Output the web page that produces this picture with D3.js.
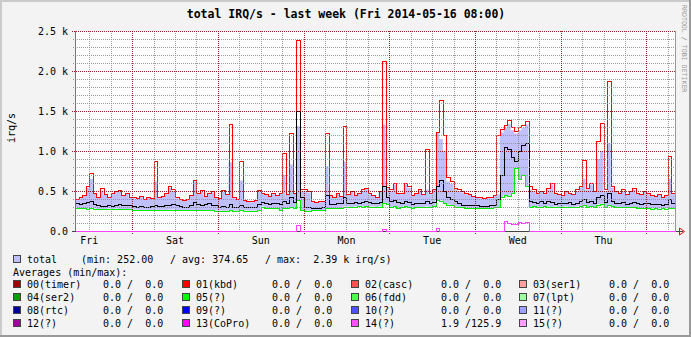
<!DOCTYPE html>
<html>
<head>
<meta charset="utf-8">
<script src="https://cdn.jsdelivr.net/npm/d3@7"></script>
<style>
  html, body { margin: 0; padding: 0; background: #f3f3f3; }
  svg { display: block; }
  text { font-family: "DejaVu Sans Mono", monospace; fill: #000; white-space: pre; }
</style>
</head>
<body>
<svg id="chart" width="691" height="337"></svg>
<script>
// One week of hourly samples, starting Fri 2014-05-09 08:00
const startTime = Date.UTC(2014, 4, 9, 8);
const endTime = Date.UTC(2014, 4, 16, 8);

// total IRQ/s: maximum (red)
const totalMax = [
  400, 420, 450, 560, 725, 480, 430, 540,
  460, 420, 470, 500, 515, 450, 480, 430,
  420, 410, 440, 400, 430, 410, 880, 420,
  440, 470, 560, 520, 420, 400, 390, 400,
  450, 640, 480, 510, 440, 470, 500, 430,
  410, 510, 460, 1340, 420, 400, 880, 390,
  380, 370, 390, 510, 480, 460, 440, 470,
  450, 480, 980, 460, 1220, 480, 2390, 520,
  520, 500, 370, 360, 370, 380, 1220, 450,
  420, 480, 440, 1310, 460, 500, 450, 480,
  520, 540, 470, 450, 430, 500, 2130, 550,
  520, 600, 480, 470, 600, 560, 450, 480,
  520, 460, 1030, 470, 520, 1240, 1640, 1200,
  680, 620, 540, 520, 500, 470, 460, 440,
  430, 420, 410, 430, 420, 450, 1200, 1270,
  1330, 1390, 1300, 1250, 1300, 1320, 1370, 560,
  520, 480, 500, 470, 540, 600, 480, 460,
  450, 500, 480, 460, 520, 560, 890, 540,
  600, 500, 1120, 1350, 520, 1880, 560, 500,
  480, 520, 460, 500, 540, 480, 460, 500,
  470, 450, 440, 460, 430, 450, 940, 470
];

// total IRQ/s: upper edge of the min..max band (lavender)
const bandUpper = [
  390, 410, 440, 540, 650, 470, 420, 500,
  450, 410, 460, 490, 500, 440, 470, 420,
  410, 400, 430, 390, 420, 400, 620, 410,
  430, 460, 540, 500, 410, 390, 380, 390,
  440, 620, 470, 490, 430, 460, 480, 420,
  400, 490, 450, 860, 410, 390, 630, 380,
  370, 360, 380, 500, 470, 450, 430, 460,
  440, 470, 700, 450, 830, 470, 1310, 500,
  500, 480, 360, 350, 360, 370, 810, 440,
  410, 470, 430, 870, 450, 490, 440, 470,
  500, 530, 460, 440, 420, 490, 1330, 530,
  500, 580, 470, 460, 580, 540, 440, 470,
  500, 450, 520, 460, 510, 1230, 1150, 1000,
  620, 590, 520, 500, 480, 460, 450, 430,
  420, 410, 400, 420, 410, 440, 460, 1230,
  1290, 1340, 1260, 1220, 1260, 1290, 1330, 520,
  500, 470, 490, 460, 520, 580, 470, 450,
  440, 490, 470, 450, 500, 540, 650, 520,
  580, 490, 900, 1000, 500, 1100, 540, 490,
  470, 500, 450, 490, 520, 470, 450, 490,
  460, 440, 430, 450, 420, 440, 650, 460
];

// total IRQ/s: average (black)
const totalAvg = [
  345, 340, 350, 360, 380, 340, 320, 315,
  315, 320, 315, 330, 340, 330, 325, 320,
  310, 305, 310, 305, 300, 310, 330, 315,
  315, 320, 330, 340, 320, 310, 305, 300,
  320, 360, 340, 330, 335, 345, 330, 320,
  305, 310, 300, 340, 305, 300, 330, 300,
  300, 295, 300, 340, 365, 350, 340, 350,
  345, 340, 380, 350, 420, 360, 1500, 420,
  300, 295, 290, 290, 290, 295, 450, 340,
  340, 345, 350, 420, 350, 355, 360, 355,
  360, 380, 360, 355, 350, 360, 560, 430,
  380, 390, 360, 350, 370, 360, 340, 345,
  350, 345, 380, 350, 360, 560, 640, 500,
  420, 400, 370, 345, 330, 325, 320, 320,
  320, 315, 310, 315, 320, 325, 400, 700,
  1050, 1020, 930, 870, 1000, 1080, 1100, 380,
  360, 350, 370, 345, 380, 360, 340, 350,
  350, 345, 360, 340, 355, 370, 400, 360,
  380, 350, 420, 450, 360, 480, 370, 350,
  345, 360, 340, 355, 360, 345, 340, 350,
  345, 340, 335, 340, 330, 340, 400, 345
];

// total IRQ/s: minimum (green)
const totalMin = [
  290, 285, 285, 280, 290, 280, 275, 275,
  275, 280, 275, 280, 275, 275, 270, 270,
  265, 265, 262, 265, 260, 262, 265, 262,
  265, 262, 265, 268, 262, 260, 258, 258,
  260, 262, 260, 258, 258, 260, 258, 256,
  255, 252, 252, 258, 255, 255, 258, 256,
  256, 255, 256, 258, 305, 290, 288, 290,
  292, 260, 285, 290, 295, 290, 390, 260,
  252, 255, 262, 264, 264, 262, 285, 285,
  285, 288, 285, 305, 305, 300, 305, 308,
  305, 310, 305, 305, 300, 305, 350, 340,
  300, 310, 290, 295, 310, 300, 290, 295,
  300, 295, 305, 300, 310, 390, 380, 350,
  330, 320, 305, 300, 295, 290, 290, 290,
  288, 285, 285, 288, 290, 295, 300, 420,
  450, 440, 470, 790, 650, 700, 560, 300,
  310, 305, 300, 310, 305, 300, 305, 300,
  300, 305, 300, 295, 305, 310, 320, 300,
  310, 300, 330, 340, 300, 320, 310, 300,
  300, 295, 300, 295, 300, 290, 285, 290,
  285, 280, 285, 280, 285, 280, 290, 285
];

// IRQ 14 (magenta)
const irq14 = [
  1.9, 1.9, 1.9, 1.9, 1.9, 1.9, 1.9, 1.9,
  1.9, 1.9, 1.9, 1.9, 1.9, 1.9, 1.9, 1.9,
  1.9, 1.9, 1.9, 1.9, 1.9, 1.9, 1.9, 1.9,
  1.9, 1.9, 1.9, 1.9, 1.9, 1.9, 1.9, 1.9,
  1.9, 1.9, 1.9, 1.9, 1.9, 1.9, 1.9, 1.9,
  1.9, 1.9, 1.9, 1.9, 1.9, 1.9, 1.9, 1.9,
  1.9, 1.9, 1.9, 1.9, 1.9, 1.9, 1.9, 1.9,
  1.9, 1.9, 1.9, 1.9, 1.9, 1.9, 75, 1.9,
  1.9, 1.9, 1.9, 1.9, 1.9, 1.9, 1.9, 1.9,
  1.9, 1.9, 1.9, 1.9, 1.9, 1.9, 1.9, 1.9,
  1.9, 1.9, 1.9, 1.9, 1.9, 1.9, 20, 1.9,
  1.9, 1.9, 1.9, 1.9, 1.9, 1.9, 1.9, 1.9,
  1.9, 1.9, 1.9, 1.9, 1.9, 34, 1.9, 1.9,
  1.9, 1.9, 1.9, 1.9, 1.9, 1.9, 1.9, 1.9,
  1.9, 1.9, 1.9, 1.9, 1.9, 1.9, 1.9, 1.9,
  125.9, 95, 85, 90, 110, 105, 110, 1.9,
  1.9, 1.9, 1.9, 1.9, 1.9, 1.9, 1.9, 1.9,
  1.9, 1.9, 1.9, 1.9, 1.9, 1.9, 1.9, 1.9,
  1.9, 1.9, 1.9, 1.9, 1.9, 1.9, 1.9, 1.9,
  1.9, 1.9, 1.9, 1.9, 1.9, 1.9, 1.9, 1.9,
  1.9, 1.9, 1.9, 1.9, 1.9, 1.9, 1.9, 1.9
];

const yTickValues = [0, 500, 1000, 1500, 2000, 2500];
const yTickLabels = ["0.0", "0.5 k", "1.0 k", "1.5 k", "2.0 k", "2.5 k"];
const dayLabels = ["Fri", "Sat", "Sun", "Mon", "Tue", "Wed", "Thu"];

const titleText = "total IRQ/s - last week (Fri 2014-05-16 08:00)";
const totalLegend = { label: "total", min: "(min: 252.00", avg: "/ avg: 374.65", max: "/ max:  2.39 k irq/s)" };

// per-IRQ legend entries: name, colour, "min / max" averages
const irqNames = ["00(timer)", "01(kbd)", "02(casc)", "03(ser1)",
                  "04(ser2)", "05(?)", "06(fdd)", "07(lpt)",
                  "08(rtc)", "09(?)", "10(?)", "11(?)",
                  "12(?)", "13(CoPro)", "14(?)", "15(?)"];
const irqColors = ["#A00000", "#FF0000", "#FF5050", "#FFA0A0",
                   "#00A000", "#00FF00", "#50FF50", "#A0FFA0",
                   "#0000A0", "#0000FF", "#5050FF", "#A0A0FF",
                   "#A000A0", "#FF00FF", "#FF50FF", "#FFA0FF"];
const irqMinMax = ["0.0 /  0.0", "0.0 /  0.0", "0.0 /  0.0", "0.0 /  0.0",
                   "0.0 /  0.0", "0.0 /  0.0", "0.0 /  0.0", "0.0 /  0.0",
                   "0.0 /  0.0", "0.0 /  0.0", "0.0 /  0.0", "0.0 /  0.0",
                   "0.0 /  0.0", "0.0 /  0.0", "1.9 /125.9", "0.0 /  0.0"];

const svg = d3.select("#chart");
const W = 691, H = 337;
const L = 75, R = 675, T = 31, B = 231;

// background + 3D-style frame
svg.append("rect").attr("width", W).attr("height", H).attr("fill", "#f3f3f3");
svg.append("rect").attr("x", L).attr("y", T).attr("width", R - L).attr("height", B - T).attr("fill", "#fff");
svg.append("path").attr("d", `M0,${H} V0 H${W}`).attr("stroke", "#cbcbcb").attr("stroke-width", 4).attr("fill", "none");
svg.append("path").attr("d", `M0,${H} H${W} V0`).attr("stroke", "#999").attr("stroke-width", 4).attr("fill", "none");

const x = d3.scaleUtc().domain([startTime, endTime]).range([L, R]);
const y = d3.scaleLinear().domain([0, 2500]).range([B, T]);
const px = v => Math.round(v) + 0.5;

const hours = d3.range(totalMax.length);
const tAt = h => new Date(startTime + h * 3600e3);
// extend each series to the end of the last hour
const pts = arr => hours.map(h => [tAt(h), arr[h]]).concat([[tAt(arr.length), arr[arr.length - 1]]]);

// min..max band
const band = d3.area()
  .x(d => x(d[0])).y0(d => y(d[1])).y1(d => y(d[2]))
  .curve(d3.curveStepAfter);
const bandData = hours.map(h => [tAt(h), totalMin[h], bandUpper[h]])
  .concat([[tAt(hours.length), totalMin[hours.length - 1], bandUpper[hours.length - 1]]]);
svg.append("path").datum(bandData).attr("d", band).attr("fill", "#c0c0ff");

const line = d3.line().x(d => Math.round(x(d[0])) + 0.5).y(d => Math.round(y(d[1])) + 0.5).curve(d3.curveStepAfter);
function drawLine(arr, color) {
  svg.append("path").datum(pts(arr)).attr("d", line)
    .attr("fill", "none").attr("stroke", color).attr("stroke-width", 1)
    .attr("shape-rendering", "crispEdges");
}
drawLine(totalMin, "#00ee00");
drawLine(totalMax, "#ff0000");
drawLine(totalAvg, "#000000");
drawLine(irq14, "#ff40ff");

// grid (drawn over the graph)
const grid = svg.append("g").attr("shape-rendering", "crispEdges");
const sixHours = d3.utcHour.every(6).range(new Date(startTime), new Date(endTime + 1));
const days = d3.utcDay.range(new Date(startTime), new Date(endTime));
sixHours.filter(d => d.getUTCHours() !== 0).forEach(d => {
  grid.append("line").attr("x1", px(x(d))).attr("x2", px(x(d))).attr("y1", T).attr("y2", B + 2)
    .attr("stroke", "#8f8f8f").attr("stroke-dasharray", "1,1").attr("stroke-opacity", 0.9);
});
d3.range(100, 2501, 100).filter(v => v % 500 !== 0).forEach(v => {
  grid.append("line").attr("x1", L - 2).attr("x2", R).attr("y1", px(y(v))).attr("y2", px(y(v)))
    .attr("stroke", "#8f8f8f").attr("stroke-dasharray", "1,1").attr("stroke-opacity", 0.9);
});
days.forEach(d => {
  grid.append("line").attr("x1", px(x(d))).attr("x2", px(x(d))).attr("y1", T).attr("y2", B + 3)
    .attr("stroke", "#800000").attr("stroke-dasharray", "1,1").attr("stroke-opacity", 0.85);
});
yTickValues.filter(v => v > 0).forEach(v => {
  grid.append("line").attr("x1", L - 3).attr("x2", R).attr("y1", px(y(v))).attr("y2", px(y(v)))
    .attr("stroke", "#800000").attr("stroke-dasharray", "1,1").attr("stroke-opacity", 0.85);
});

// axes
grid.append("line").attr("x1", px(L)).attr("x2", px(L)).attr("y1", T).attr("y2", B + 1).attr("stroke", "#777");
grid.append("line").attr("x1", px(R)).attr("x2", px(R)).attr("y1", T).attr("y2", B + 1).attr("stroke", "#999");
grid.append("line").attr("x1", L - 3).attr("x2", R + 8).attr("y1", px(B)).attr("y2", px(B)).attr("stroke", "#444");
// the IRQ 14 baseline runs along the axis
svg.append("path").datum(pts(irq14)).attr("d", line)
  .attr("fill", "none").attr("stroke", "#ff40ff").attr("stroke-width", 1).attr("shape-rendering", "crispEdges");
svg.append("path")
  .attr("d", `M${R + 4.5},${B - 3} L${R + 9.5},${B + 0.5} L${R + 4.5},${B + 4} Z`)
  .attr("fill", "none").attr("stroke", "#ff0000").attr("stroke-width", 1);

// y-axis labels
svg.append("g").selectAll("text").data(yTickValues).join("text")
  .attr("x", 68).attr("y", v => y(v) + 3.5)
  .attr("text-anchor", "end").attr("font-size", 10)
  .text((v, i) => yTickLabels[i]);

// day labels at noon
svg.append("g").selectAll("text").data(dayLabels).join("text")
  .attr("x", (d, i) => x(Date.UTC(2014, 4, 9 + i, 12)))
  .attr("y", 244).attr("text-anchor", "middle").attr("font-size", 10)
  .text(d => d);

svg.append("text").attr("transform", "translate(15,128) rotate(-90)")
  .attr("text-anchor", "middle").attr("font-size", 10).text("irq/s");

svg.append("text").attr("x", 346).attr("y", 18).attr("text-anchor", "middle")
  .attr("font-size", 11.5).attr("font-weight", "bold").text(titleText);

svg.append("text").attr("transform", "translate(682,5) rotate(90)")
  .attr("font-size", 6.6).style("fill", "#999").text("RRDTOOL / TOBI OETIKER");

// legend
const leg = svg.append("g").attr("font-size", 10);
function swatch(cx, cy, color) {
  leg.append("rect").attr("x", cx + 0.5).attr("y", cy + 0.5).attr("width", 7).attr("height", 7)
    .attr("fill", color).attr("stroke", "#444").attr("stroke-width", 1);
}
swatch(13, 255, "#c0c0ff");
leg.append("text").attr("x", 27).attr("y", 262.5).text(totalLegend.label);
leg.append("text").attr("x", 81).attr("y", 262.5).text(totalLegend.min);
leg.append("text").attr("x", 170).attr("y", 262.5).text(totalLegend.avg);
leg.append("text").attr("x", 265).attr("y", 262.5).text(totalLegend.max);
leg.append("text").attr("x", 13).attr("y", 275.5).text("Averages (min/max):");

const colX = [13, 182, 351, 519];
const rowY = [280, 293, 306, 319];
irqNames.forEach((name, i) => {
  const cx = colX[i % 4], cy = rowY[Math.floor(i / 4)];
  swatch(cx, cy, irqColors[i]);
  leg.append("text").attr("x", cx + 14).attr("y", cy + 7.5).text(name);
  leg.append("text").attr("x", cx + 90).attr("y", cy + 7.5).text(irqMinMax[i]);
});
</script>
</body>
</html>
